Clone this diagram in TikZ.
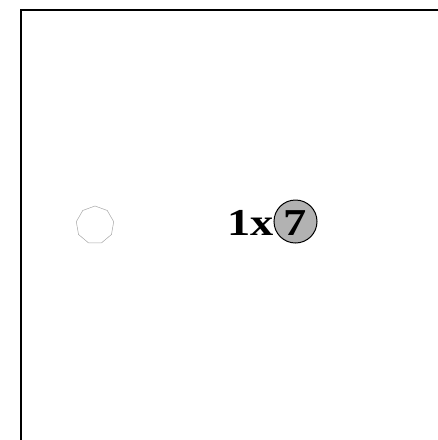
\documentclass[tikz,border=0pt]{standalone}
\usepackage{fontspec}
\usepackage{graphicx}
\setmainfont{Liberation Serif}
\usetikzlibrary{shapes.geometric}
\newcommand{\widebold}[1]{\scalebox{1.22}[1]{\fontsize{38}{38}\selectfont\bfseries #1}}
\begin{document}
\begin{tikzpicture}[x=1pt,y=-1pt,
  frameline/.style={line width=2pt,black},
  ghost/.style={draw=gray!70,line width=0.5pt,regular polygon,regular polygon sides=9,minimum size=38pt,inner sep=0pt},
  ballnode/.style={circle,draw=black,line width=1pt,fill=gray!60,minimum size=43pt,inner sep=0pt},
  labeltext/.style={inner sep=0pt}]
\useasboundingbox (0,0) rectangle (438,440);
\coordinate (tl) at (20.5,9.5);
\coordinate (tr) at (438,9.5);
\coordinate (bl) at (20.5,440);
\draw[frameline] (tr) -- (tl) -- (bl);
\node[ghost] (oct) at (95,225) {};
\node[ballnode] (ball) at (295.5,221.5) {};
\node[labeltext] (seven) at (295.5,223) {\widebold{7}};
\node[labeltext,anchor=east] (count) at (274,223) {\widebold{1x}};
\end{tikzpicture}
\end{document}
